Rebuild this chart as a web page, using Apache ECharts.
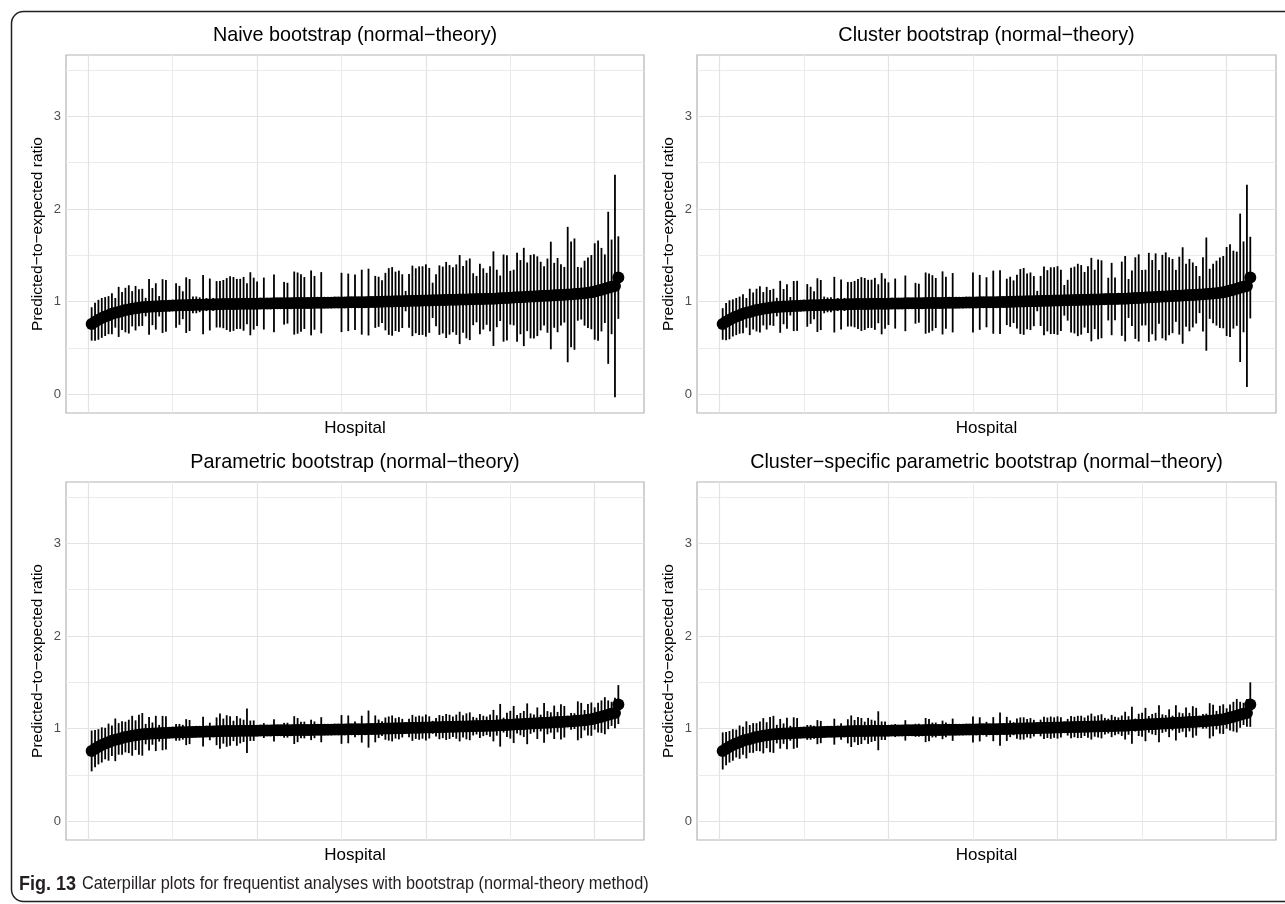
<!DOCTYPE html>
<html><head><meta charset="utf-8">
<script src="https://cdn.jsdelivr.net/npm/echarts@6/dist/echarts.min.js"></script>
<style>html,body{margin:0;padding:0;background:#fff}#c{width:1285px;height:904px}</style>
</head><body><div id="c"></div>
<script>
const panelTitles = [
  'Naive bootstrap (normal\u2212theory)',
  'Cluster bootstrap (normal\u2212theory)',
  'Parametric bootstrap (normal\u2212theory)',
  'Cluster\u2212specific parametric bootstrap (normal\u2212theory)'
];
const yAxisTitle = 'Predicted\u2212to\u2212expected ratio';
const xAxisTitle = 'Hospital';
const captionBold = 'Fig. 13';
const captionText = 'Caterpillar plots for frequentist analyses with bootstrap (normal-theory method)';
const yTicks = [0, 1, 2, 3];
const yGridMajor = [0, 1, 2, 3];
const yGridMinor = [0.5, 1.5, 2.5, 3.5];
const xGridMajor = [0, 50, 100, 150];
const xGridMinor = [25, 75, 125];

// point estimates of the 157 hospitals, sorted
const estimate = [
  0.76,0.785,0.805,0.825,0.84,0.855,0.87,0.88,0.89,0.9,0.91,0.917,0.924,0.93,0.935,0.939,0.942,0.945,0.947,0.949,
  0.951,0.953,0.955,0.957,0.959,0.96,0.961,0.962,0.963,0.964,0.965,0.966,0.967,0.968,0.969,0.97,0.971,0.972,0.973,0.974,
  0.975,0.975,0.976,0.976,0.977,0.977,0.978,0.978,0.979,0.979,0.98,0.98,0.981,0.981,0.982,0.982,0.983,0.983,0.984,0.984,
  0.985,0.985,0.986,0.986,0.987,0.987,0.988,0.988,0.989,0.989,0.99,0.99,0.991,0.991,0.992,0.992,0.993,0.993,0.994,0.994,
  0.995,0.995,0.996,0.997,0.998,0.999,1.0,1.001,1.002,1.003,1.004,1.005,1.006,1.007,1.008,1.009,1.01,1.011,1.012,1.013,
  1.014,1.015,1.016,1.017,1.018,1.019,1.02,1.021,1.022,1.023,1.024,1.025,1.026,1.027,1.028,1.029,1.03,1.031,1.032,1.033,
  1.035,1.037,1.039,1.041,1.043,1.045,1.047,1.049,1.051,1.053,1.055,1.057,1.059,1.061,1.063,1.065,1.067,1.069,1.071,1.073,
  1.075,1.077,1.079,1.082,1.085,1.088,1.092,1.097,1.103,1.11,1.12,1.13,1.14,1.15,1.16,1.17,1.26
];

// half-widths of the normal-theory intervals, per panel
const halfNaive = [
  0.18,0.205,0.215,0.215,0.21,0.205,0.22,0.16,0.27,0.205,0.24,0.26,0.19,0.24,0.2,0.2,0.1,0.3,0.2,0.25,0.11,0.29,0.28,
  0.06,0.06,0.24,0.21,0.15,0.3,0.28,0.09,0.09,0.08,0.32,0.07,0.28,0.07,0.25,0.25,0.26,0.28,0.3,0.29,0.27,0.27,0.29,0.22,0.34,0.28,0.24,
  0.06,0.28,0.04,0.04,0.31,0.04,0.04,0.23,0.22,0.05,0.34,0.33,0.31,0.28,0.05,0.35,0.29,0.04,0.33,0.03,0.03,0.03,0.03,0.03,0.32,0.05,0.31,0.05,0.3,0.05,0.35,0.05,0.36,0.05,
  0.28,0.27,0.23,0.31,0.36,0.37,0.32,0.33,0.29,0.11,0.29,0.38,0.35,0.37,0.37,0.39,0.35,0.19,0.28,0.375,0.36,0.41,0.375,0.35,0.38,0.48,0.36,0.42,0.44,0.28,
  0.25,0.38,0.33,0.28,0.35,0.51,0.31,0.245,0.47,0.46,0.29,0.3,0.48,0.4,0.53,0.37,0.45,0.455,0.43,0.37,0.32,0.4,0.58,0.35,0.4,0.33,0.3,0.73,0.57,0.6,
  0.29,0.28,0.35,0.38,0.4,0.52,0.54,0.45,0.37,0.82,0.51,1.2,0.445
];
const halfCluster = [
  0.17,0.2,0.21,0.2,0.2,0.2,0.21,0.16,0.25,0.2,0.23,0.25,0.18,0.23,0.19,0.2,0.1,0.28,0.19,0.24,0.1,0.27,0.27,
  0.06,0.06,0.23,0.2,0.15,0.29,0.27,0.09,0.08,0.08,0.3,0.07,0.27,0.07,0.24,0.24,0.25,0.27,0.29,0.28,0.26,0.26,0.28,0.21,0.33,0.27,0.23,
  0.06,0.27,0.04,0.04,0.3,0.04,0.04,0.22,0.21,0.05,0.33,0.32,0.3,0.27,0.05,0.34,0.28,0.04,0.32,0.03,0.03,0.03,0.03,0.03,
  0.323,0.05,0.296,0.05,0.27,0.05,0.34,0.05,0.344,0.05,
  0.25,0.27,0.23,0.29,0.35,0.36,0.3,0.31,0.27,0.11,
  0.27,0.37,0.33,0.36,0.36,0.37,0.33,0.165,0.22,0.35,
  0.36,0.39,0.375,0.3,0.36,0.45,0.32,0.43,0.42,0.06,
  0.23,0.39,0.23,0.06,0.4,0.46,0.21,0.3,0.44,0.47,
  0.3,0.3,0.48,0.4,0.47,0.29,0.45,0.475,0.42,0.4,
  0.28,0.42,0.52,0.34,0.39,0.35,0.31,0.2,0.4,0.61,
  0.27,0.32,0.35,0.38,0.39,0.48,0.5,0.42,0.4,0.8,
  0.49,1.09,0.44
];
const halfParametric = [
  0.22,0.2,0.19,0.19,0.17,0.2,0.165,0.23,0.17,0.18,0.165,0.18,0.215,0.16,0.215,0.23,0.11,0.18,0.12,0.19,0.09,0.185,0.18,
  0.04,0.04,0.09,0.09,0.08,0.14,0.13,0.04,0.06,0.04,0.16,0.04,0.095,0.04,0.15,0.19,0.135,0.17,0.16,0.11,0.16,0.135,0.12,0.24,0.11,0.11,0.05,
  0.04,0.08,0.03,0.03,0.12,0.03,0.03,0.08,0.08,0.04,0.15,0.13,0.09,0.09,0.04,0.11,0.09,0.03,0.135,0.03,0.03,0.03,0.03,0.03,0.155,0.04,0.15,0.04,0.085,0.04,0.145,0.04,0.2,0.04,0.145,
  0.1,0.08,0.12,0.13,0.14,0.11,0.12,0.1,0.04,0.1,0.14,0.12,0.13,0.12,0.14,0.12,0.07,0.1,0.13,0.12,0.14,0.13,0.11,0.13,0.16,0.12,0.14,0.15,0.1,0.09,0.13,0.11,0.1,0.12,0.17,0.11,
  0.23,0.08,0.13,0.15,0.2,0.1,0.12,0.14,0.22,0.11,0.095,0.17,0.09,0.215,0.125,0.11,0.18,0.11,0.19,0.17,0.06,0.09,0.085,0.21,0.19,0.11,0.17,0.18,0.12,0.16,0.175,0.2,0.155,0.13,0.165,0.21
];
const halfClusterParametric = [
  0.2,0.18,0.17,0.17,0.15,0.18,0.15,0.2,0.15,0.16,0.15,0.16,0.19,0.14,0.19,0.2,0.1,0.16,0.11,0.17,0.08,0.17,0.16,
  0.04,0.04,0.08,0.08,0.07,0.13,0.12,0.04,0.05,0.04,0.14,0.04,0.09,0.04,0.13,0.17,0.12,0.15,0.14,0.1,0.14,0.12,0.11,0.21,0.1,0.1,0.05,
  0.04,0.07,0.03,0.03,0.11,0.03,0.03,0.07,0.07,0.04,0.13,0.12,0.08,0.08,0.04,0.1,0.08,0.03,0.12,0.03,0.03,0.03,0.03,0.03,0.14,0.04,0.13,0.04,0.08,0.04,0.13,0.04,0.18,0.04,0.13,
  0.09,0.07,0.11,0.12,0.12,0.1,0.11,0.09,0.04,0.09,0.12,0.11,0.12,0.11,0.12,0.11,0.06,0.09,0.12,0.11,0.12,0.12,0.1,0.12,0.14,0.11,0.12,0.13,0.09,0.08,0.12,0.1,0.09,0.11,0.15,0.1,
  0.2,0.07,0.12,0.13,0.18,0.09,0.11,0.12,0.2,0.1,0.09,0.15,0.08,0.19,0.11,0.1,0.16,0.1,0.17,0.15,0.05,0.08,0.08,0.19,0.17,0.1,0.15,0.16,0.11,0.14,0.16,0.18,0.14,0.12,0.15,0.24
];
const panelHalfWidths = [halfNaive, halfCluster, halfParametric, halfClusterParametric];

const FONT = 'Liberation Sans';
const grids = [
  {left: 66, top: 55, width: 578, height: 358},
  {left: 697, top: 55, width: 579, height: 358},
  {left: 66, top: 482, width: 578, height: 358},
  {left: 697, top: 482, width: 579, height: 358}
];

const chart = echarts.init(document.getElementById('c'), null, {renderer: 'canvas'});
const xAxes = [], yAxes = [], series = [], graphics = [];

grids.forEach((g, i) => {
  xAxes.push({
    type: 'value', gridIndex: i, min: -6.6, max: 164.6,
    axisLine: {show: false}, axisTick: {show: false}, axisLabel: {show: false},
    splitLine: {show: false},
    name: xAxisTitle, nameLocation: 'middle', nameGap: 7,
    nameTextStyle: {fontSize: 17, color: '#000', fontFamily: FONT, verticalAlign: 'top'}
  });
  yAxes.push({
    type: 'value', gridIndex: i, min: -0.2, max: 3.66,
    axisLine: {show: false},
    axisTick: {show: true, customValues: yTicks, length: 4, lineStyle: {color: '#b3b3b3', width: 1}},
    axisLabel: {customValues: yTicks, color: '#4d4d4d', fontSize: 13, margin: 5, fontFamily: FONT},
    splitLine: {show: false},
    name: yAxisTitle, nameLocation: 'middle', nameGap: 20,
    nameTextStyle: {fontSize: 15.5, color: '#000', fontFamily: FONT}
  });
  const gl = [];
  yGridMinor.forEach(v => gl.push({yAxis: v, lineStyle: {color: '#ebebeb', width: 1, type: 'solid'}}));
  xGridMinor.forEach(v => gl.push({xAxis: v, lineStyle: {color: '#ebebeb', width: 1, type: 'solid'}}));
  yGridMajor.forEach(v => gl.push({yAxis: v, lineStyle: {color: '#e3e3e3', width: 1.2, type: 'solid'}}));
  xGridMajor.forEach(v => gl.push({xAxis: v, lineStyle: {color: '#e3e3e3', width: 1.2, type: 'solid'}}));
  series.push({
    type: 'line', xAxisIndex: i, yAxisIndex: i, data: [], silent: true, z: 1,
    markLine: {silent: true, z: 1, symbol: 'none', animation: false, label: {show: false}, data: gl}
  });
  const hw = panelHalfWidths[i];
  const barData = estimate.map((e, k) => [k + 1, e - hw[k], e + hw[k]]);
  series.push({
    type: 'custom', xAxisIndex: i, yAxisIndex: i, z: 3, animation: false, silent: true,
    encode: {x: 0, y: [1, 2]},
    data: barData,
    renderItem: (params, api) => {
      const x = api.value(0);
      const p1 = api.coord([x, api.value(1)]);
      const p2 = api.coord([x, api.value(2)]);
      return {type: 'line', shape: {x1: p1[0], y1: p1[1], x2: p2[0], y2: p2[1]},
              style: {stroke: '#000', lineWidth: 1.8}};
    }
  });
  series.push({
    type: 'scatter', xAxisIndex: i, yAxisIndex: i, z: 4, animation: false, silent: true,
    symbol: 'circle', symbolSize: 12, itemStyle: {color: '#000', opacity: 1},
    data: estimate.map((e, k) => [k + 1, e])
  });
  graphics.push({
    type: 'text', x: g.left + g.width / 2, y: g.top - 19, silent: true,
    style: {text: panelTitles[i], fontSize: 19.8, fontFamily: FONT, fill: '#000',
            textAlign: 'center', textVerticalAlign: 'middle'}
  });
});

graphics.push({
  type: 'rect', silent: true, z: -1,
  shape: {x: 11.5, y: 11.5, width: 1300, height: 890, r: 12},
  style: {fill: 'none', stroke: '#231f20', lineWidth: 1.5}
});
graphics.push({
  type: 'text', x: 19, y: 884, scaleX: 0.9, silent: true,
  style: {
    text: '{b|' + captionBold + '}  {n|' + captionText + '}',
    textVerticalAlign: 'middle',
    rich: {
      b: {fontFamily: FONT, fontWeight: 'bold', fontSize: 20, fill: '#231f20'},
      n: {fontFamily: FONT, fontSize: 18.1, fill: '#231f20'}
    }
  }
});

chart.setOption({
  animation: false,
  backgroundColor: '#fff',
  grid: grids.map(g => Object.assign({show: true, borderColor: '#b3b3b3', borderWidth: 1.2, backgroundColor: '#fff', containLabel: false}, g)),
  xAxis: xAxes,
  yAxis: yAxes,
  series: series,
  graphic: graphics
});
</script>
</body></html>
